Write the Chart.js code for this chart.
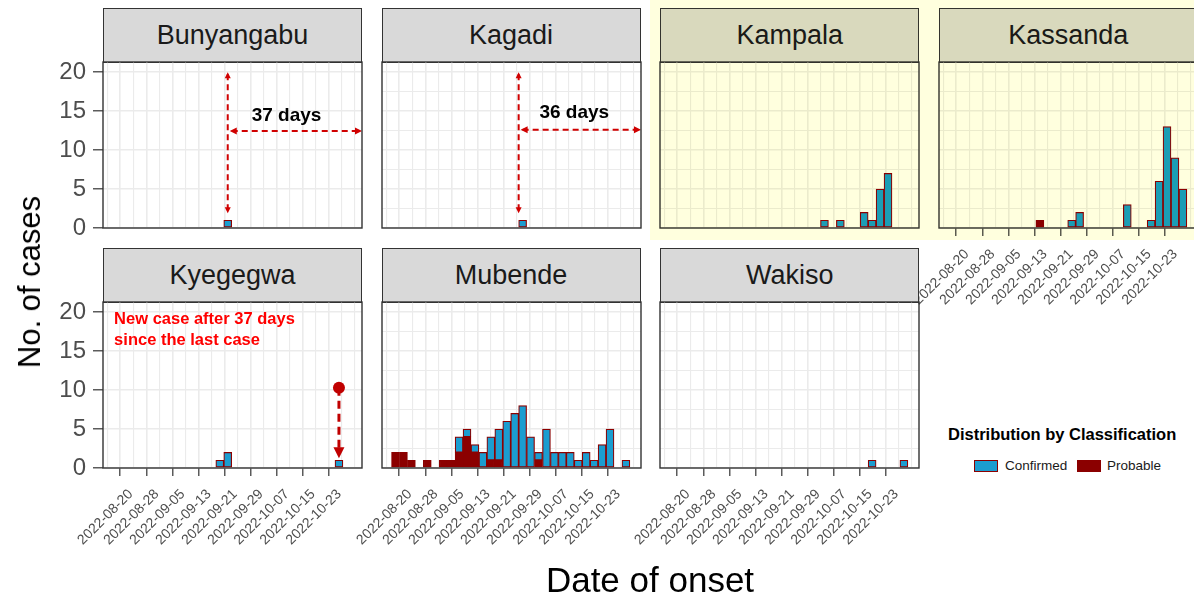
<!DOCTYPE html>
<html>
<head>
<meta charset="utf-8">
<script src="https://cdn.jsdelivr.net/npm/chart.js@4.4.0/dist/chart.umd.min.js"></script>
<style>
  body { margin: 0; width: 1194px; height: 598px; overflow: hidden; background: #fff; position: relative;
         font-family: "Liberation Sans", Arial, sans-serif; }
  .strip { position: absolute; background: #d9d9d9; border: 1px solid #333; box-sizing: border-box;
           text-align: center; font-size: 27px; color: #1a1a1a; }
  .holder { position: absolute; }
  .title { position: absolute; color: #000; white-space: nowrap; }
  .legend-title { position: absolute; left: 948px; top: 425px; font-size: 16.5px; font-weight: bold; color: #000; }
  .key { position: absolute; width: 24px; height: 12px; border: 1.5px solid #8B0000; box-sizing: border-box; }
  .key-text { position: absolute; font-size: 13.5px; color: #1a1a1a; }
  #highlight { position: absolute; left: 650px; top: 0; width: 544px; height: 240px;
               background: rgb(255,255,222); mix-blend-mode: multiply; pointer-events: none; z-index: 10; }
</style>
</head>
<body>

<script>
// bins run from 2022-08-15 (afternoon) in steps of ~2.44 days, 30 bins
var binStart = '2022-08-15T15:00:00Z';
var binDays = 2.44;
var tickLabels = ['2022-08-20', '2022-08-28', '2022-09-05', '2022-09-13', '2022-09-21',
                  '2022-09-29', '2022-10-07', '2022-10-15', '2022-10-23'];
var yTickValues = [0, 5, 10, 15, 20];

// counts per bin (30 bins)
var bunyangabuConfirmed = [0,0,0,0,0,0,0,0,0,0, 0,0,0,0,1,0,0,0,0,0, 0,0,0,0,0,0,0,0,0,0];
var kagadiConfirmed     = [0,0,0,0,0,0,0,0,0,0, 0,0,0,0,0,0,1,0,0,0, 0,0,0,0,0,0,0,0,0,0];
var kampalaConfirmed    = [0,0,0,0,0,0,0,0,0,0, 0,0,0,0,0,0,0,0,0,1, 0,1,0,0,2,1,5,7,0,0];
var kassandaConfirmed   = [0,0,0,0,0,0,0,0,0,0, 0,0,0,0,0,1,2,0,0,0, 0,0,3,0,0,1,6,13,9,5];
var kassandaProbable    = [0,0,0,0,0,0,0,0,0,0, 0,1,0,0,0,0,0,0,0,0, 0,0,0,0,0,0,0,0,0,0];
var kyegegwaConfirmed   = [0,0,0,0,0,0,0,0,0,0, 0,0,0,1,2,0,0,0,0,0, 0,0,0,0,0,0,0,0,1,0];
var mubendeConfirmed    = [0,0,0,0,0,0,0,0,2,1, 1,2,3,4,6,7,8,4,1,5, 2,2,2,1,2,1,3,5,0,1];
var mubendeProbable     = [2,2,1,0,1,0,1,1,2,4, 2,0,1,1,0,0,0,0,1,0, 0,0,0,0,0,0,0,0,0,0];
var wakisoConfirmed     = [0,0,0,0,0,0,0,0,0,0, 0,0,0,0,0,0,0,0,0,0, 0,0,0,0,0,1,0,0,0,1];

var CONFIRMED = '#1B9DD0';
var PROBABLE = '#8B0000';
var X_MIN = -1.2, X_MAX = 31.4, Y_MAX = 21.3;

// layout
var panelW = 259, panelH = 166;
var rowTop = [62, 302];
var L = 100, PAD_T = 2, PAD_R = 4;
function colLeft(c) { return 103 + c * 278.6; }

function datePos(d) {
    return (Date.parse(d + 'T00:00:00Z') - Date.parse(binStart)) / 864e5 / binDays;
}

// major ticks at the labels, minor grid halfway (4 days)
var xTicks = [];
xTicks.push({ value: datePos('2022-08-16'), minor: true });
tickLabels.forEach(function (t) {
    var p = datePos(t);
    xTicks.push({ value: p, name: t, minor: false });
    var m = p + 4 / binDays;
    if (m < X_MAX) xTicks.push({ value: m, minor: true });
});
var lastMinor = datePos('2022-10-31');
if (lastMinor < X_MAX) xTicks.push({ value: lastMinor, minor: true });

var yTicks = [];
yTickValues.forEach(function (v) {
    yTicks.push({ value: v, minor: false });
    if (v + 2.5 < Y_MAX) yTicks.push({ value: v + 2.5, minor: true });
});

function toPoints(arr) {
    return arr.map(function (v, i) { return { x: i + 0.5, y: v ? v : null }; });
}

// ---------- annotations ----------
function arrowHead(ctx, x, y, ang, size) {
    ctx.save();
    ctx.translate(x, y);
    ctx.rotate(ang);
    ctx.beginPath();
    ctx.moveTo(0, 0);
    ctx.lineTo(-size, -size * 0.5);
    ctx.lineTo(-size, size * 0.5);
    ctx.closePath();
    ctx.fill();
    ctx.restore();
}

function gapNote(label, xLine, yArrow, xText, yText) {
    return function (ctx, xs, ys, area) {
        var x0 = xs.getPixelForValue(xLine);
        var yTop = ys.getPixelForValue(20), yBot = ys.getPixelForValue(1.9);
        var yh = ys.getPixelForValue(yArrow);
        ctx.save();
        ctx.strokeStyle = '#D00000';
        ctx.fillStyle = '#D00000';
        ctx.lineWidth = 2;
        ctx.setLineDash([6, 4]);
        ctx.beginPath();
        ctx.moveTo(x0, yTop + 2);
        ctx.lineTo(x0, yBot - 2);
        ctx.moveTo(x0 + 4, yh);
        ctx.lineTo(area.right - 4, yh);
        ctx.stroke();
        ctx.setLineDash([]);
        arrowHead(ctx, x0, yTop, -Math.PI / 2, 6);
        arrowHead(ctx, x0, yBot, Math.PI / 2, 6);
        arrowHead(ctx, x0 + 2, yh, Math.PI, 7);
        arrowHead(ctx, area.right, yh, 0, 7);
        ctx.fillStyle = '#000';
        ctx.font = 'bold 19px "Liberation Sans", Arial, sans-serif';
        ctx.textAlign = 'center';
        ctx.textBaseline = 'middle';
        ctx.fillText(label, xs.getPixelForValue(xText), ys.getPixelForValue(yText));
        ctx.restore();
    };
}

var notes = {
    bunyangabu: gapNote('37 days', 14.5, 12.45, 21.9, 14.4),
    kagadi: gapNote('36 days', 16.0, 12.6, 23.0, 14.8),
    kyegegwa: function (ctx, xs, ys) {
        var x0 = xs.getPixelForValue(28.5);
        var yDot = ys.getPixelForValue(10.3), yTip = ys.getPixelForValue(1.25);
        ctx.save();
        ctx.strokeStyle = '#C00000';
        ctx.fillStyle = '#C00000';
        ctx.lineWidth = 3;
        ctx.setLineDash([8, 5]);
        ctx.beginPath();
        ctx.moveTo(x0, yDot);
        ctx.lineTo(x0, yTip - 8);
        ctx.stroke();
        ctx.setLineDash([]);
        ctx.beginPath();
        ctx.arc(x0, yDot, 6, 0, Math.PI * 2);
        ctx.fill();
        arrowHead(ctx, x0, yTip, Math.PI / 2, 11);
        ctx.fillStyle = '#FF0000';
        ctx.font = 'bold 16.5px "Liberation Sans", Arial, sans-serif';
        ctx.textAlign = 'left';
        ctx.textBaseline = 'middle';
        var xt = xs.getPixelForValue(0.2);
        ctx.fillText('New case after 37 days', xt, ys.getPixelForValue(19.1));
        ctx.fillText('since the last case', xt, ys.getPixelForValue(16.4));
        ctx.restore();
    }
};

var panelPlugin = {
    id: 'panelDeco',
    afterDatasetsDraw: function (chart) {
        var f = notes[chart.canvas.id];
        if (f) f(chart.ctx, chart.scales.x, chart.scales.y, chart.chartArea);
    },
    afterDraw: function (chart) {
        var a = chart.chartArea, ctx = chart.ctx;
        ctx.save();
        ctx.strokeStyle = '#333333';
        ctx.lineWidth = 1.4;
        ctx.strokeRect(a.left, a.top, a.right - a.left, a.bottom - a.top);
        ctx.restore();
    }
};

// ---------- panels ----------
var panels = [
    { id: 'bunyangabu', name: 'Bunyangabu', col: 0, row: 0, confirmed: bunyangabuConfirmed, yLab: true, xLab: false },
    { id: 'kagadi', name: 'Kagadi', col: 1, row: 0, confirmed: kagadiConfirmed, yLab: false, xLab: false },
    { id: 'kampala', name: 'Kampala', col: 2, row: 0, confirmed: kampalaConfirmed, yLab: false, xLab: false },
    { id: 'kassanda', name: 'Kassanda', col: 3, row: 0, confirmed: kassandaConfirmed, probable: kassandaProbable, yLab: false, xLab: true },
    { id: 'kyegegwa', name: 'Kyegegwa', col: 0, row: 1, confirmed: kyegegwaConfirmed, yLab: true, xLab: true },
    { id: 'mubende', name: 'Mubende', col: 1, row: 1, confirmed: mubendeConfirmed, probable: mubendeProbable, yLab: false, xLab: true },
    { id: 'wakiso', name: 'Wakiso', col: 2, row: 1, confirmed: wakisoConfirmed, yLab: false, xLab: true }
];

var FONT = '"Liberation Sans", Arial, sans-serif';

function gridWidth(c) { return c.tick && c.tick.minor ? 1.1 : 1.6; }
function tickCol(c) { return c.tick && c.tick.minor ? 'rgba(0,0,0,0)' : '#333333'; }

panels.forEach(function (p) {
    var left = colLeft(p.col), top = rowTop[p.row];
    var B = p.xLab ? 120 : 16;

    var strip = document.createElement('div');
    strip.className = 'strip';
    strip.style.left = left + 'px';
    strip.style.top = (top - 54) + 'px';
    strip.style.width = panelW + 'px';
    strip.style.height = '55px';
    strip.style.lineHeight = '53px';
    strip.textContent = p.name;
    document.body.appendChild(strip);

    var holder = document.createElement('div');
    holder.className = 'holder';
    var w = L + panelW + PAD_R, h = PAD_T + panelH + B;
    holder.style.left = (left - L) + 'px';
    holder.style.top = (top - PAD_T) + 'px';
    holder.style.width = w + 'px';
    holder.style.height = h + 'px';
    var canvas = document.createElement('canvas');
    canvas.id = p.id;
    canvas.width = w;
    canvas.height = h;
    canvas.style.width = w + 'px';
    canvas.style.height = h + 'px';
    holder.appendChild(canvas);
    document.body.appendChild(holder);

    var datasets = [];
    if (p.probable) {
        datasets.push({ label: 'Probable', data: toPoints(p.probable), backgroundColor: PROBABLE });
    }
    datasets.push({ label: 'Confirmed', data: toPoints(p.confirmed), backgroundColor: CONFIRMED });
    datasets.forEach(function (d) {
        d.borderColor = '#8B0000';
        d.borderWidth = 1.2;
        d.borderSkipped = false;
        d.barPercentage = 1;
        d.categoryPercentage = 1;
    });

    new Chart(canvas, {
        type: 'bar',
        data: { datasets: datasets },
        plugins: [panelPlugin],
        options: {
            responsive: false,
            animation: false,
            devicePixelRatio: 1,
            layout: { padding: { top: PAD_T, right: PAD_R, left: 0, bottom: 0 } },
            plugins: { legend: { display: false }, tooltip: { enabled: false } },
            scales: {
                x: {
                    type: 'linear', min: X_MIN, max: X_MAX, stacked: true, offset: false,
                    afterBuildTicks: function (s) {
                        s.ticks = xTicks.map(function (t) { return { value: t.value, name: t.name, minor: t.minor }; });
                    },
                    afterFit: function (s) { s.height = B; s.paddingLeft = 0; s.paddingRight = 0; },
                    border: { display: false },
                    grid: {
                        color: '#ebebeb', lineWidth: gridWidth,
                        drawTicks: p.xLab, tickLength: 8, tickWidth: 1.2, tickColor: tickCol
                    },
                    ticks: {
                        display: p.xLab, autoSkip: false, minRotation: 45, maxRotation: 45,
                        padding: 10, labelOffset: 4,
                        color: '#4d4d4d', font: { family: FONT, size: 14 },
                        callback: function (v, i, t) { return t[i].name || ''; }
                    }
                },
                y: {
                    type: 'linear', min: 0, max: Y_MAX, stacked: true,
                    afterBuildTicks: function (s) {
                        s.ticks = yTicks.map(function (t) { return { value: t.value, minor: t.minor }; });
                    },
                    afterFit: function (s) { s.width = L; s.paddingTop = 0; s.paddingBottom = 0; },
                    border: { display: false },
                    grid: {
                        color: '#ebebeb', lineWidth: gridWidth,
                        drawTicks: p.yLab, tickLength: 10, tickWidth: 1.2, tickColor: tickCol
                    },
                    ticks: {
                        display: p.yLab, padding: 7, color: '#4d4d4d', font: { family: FONT, size: 24 },
                        callback: function (v, i, t) { return t[i].minor ? '' : String(v); }
                    }
                }
            }
        }
    });
});
</script>

<div class="title" style="left: 30px; top: 282px; font-size: 31px; transform: translate(-50%, -50%) rotate(-90deg);">No. of cases</div>
<div class="title" style="left: 650px; top: 580px; font-size: 35px; transform: translate(-50%, -50%);">Date of onset</div>

<div class="legend-title">Distribution by Classification</div>
<div class="key" style="left: 974px; top: 460px; background: #1B9DD0;"></div>
<div class="key-text" style="left: 1005px; top: 458px;">Confirmed</div>
<div class="key" style="left: 1077px; top: 460px; background: #8B0000;"></div>
<div class="key-text" style="left: 1107px; top: 458px;">Probable</div>

<div id="highlight"></div>
</body>
</html>
